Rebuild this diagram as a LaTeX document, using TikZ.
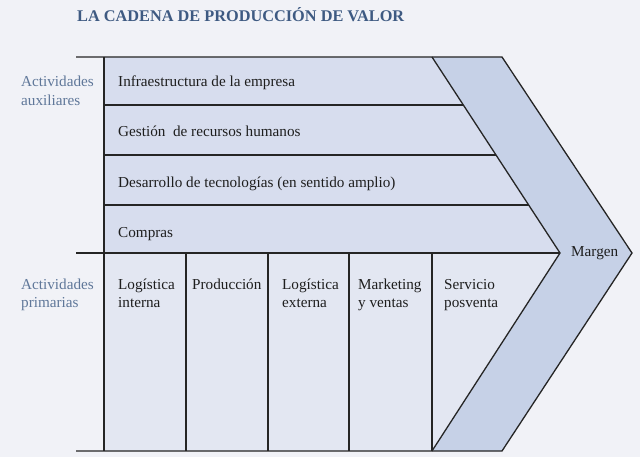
\documentclass[tikz,border=0pt]{standalone}
\usepackage{fontspec}
\setmainfont{Liberation Serif}
\definecolor{bg}{HTML}{F1F2F7}
\definecolor{supfill}{HTML}{D7DDEE}
\definecolor{primfill}{HTML}{E3E7F2}
\definecolor{marfill}{HTML}{C6D1E7}
\definecolor{linec}{HTML}{252525}
\definecolor{titlec}{HTML}{3E5A82}
\definecolor{labc}{HTML}{5F7799}
\definecolor{txtc}{HTML}{1E1E1E}
\newcommand{\twolines}[2]{\vtop{\hbox{#1}\hbox{#2}}}
\begin{document}
\begin{tikzpicture}[x=1pt,y=-1pt,
  frame/.style={draw=linec,line width=1.3pt},
  body/.style={anchor=base west,inner sep=0pt,font=\fontsize{15.2}{18.5}\selectfont,text=txtc},
  side/.style={anchor=base west,inner sep=0pt,font=\fontsize{15.2}{18.8}\selectfont,text=labc}]
\fill[bg] (0,0) rectangle (640,457);
\useasboundingbox (0,0) rectangle (640,457);
% coordinates
\coordinate (tl) at (104,57);
\coordinate (ti) at (432,57);
\coordinate (to) at (502,57);
\coordinate (tipi) at (560,253);
\coordinate (tipo) at (632,253);
\coordinate (bi) at (432,451);
\coordinate (bo) at (502,451);
\coordinate (bl) at (104,451);
\coordinate (ml) at (104,253);
% fills
\fill[supfill] (tl) -- (ti) -- (tipi) -- (ml) -- cycle;
\fill[primfill] (ml) -- (tipi) -- (bi) -- (bl) -- cycle;
\fill[marfill] (ti) -- (to) -- (tipo) -- (bo) -- (bi) -- (tipi) -- cycle;
% lines
\coordinate (tx) at (76,57);
\coordinate (mx) at (76,253);
\coordinate (bx) at (76,451);
\draw[frame] (tx) -- (to) -- (tipo) -- (bo) -- (bx);
\draw[frame] (mx) -- (tipi);
\draw[frame] (ti) -- (tipi) -- (bi);
\draw[frame] (tl) -- (bl);
\draw[frame] (104,105) -- (463.3,105);
\draw[frame] (104,155) -- (496,155);
\draw[frame] (104,205) -- (528.7,205);
\foreach \xx in {186,268,349,432} \draw[frame] (\xx,253) -- (\xx,451);
% title
\node[anchor=base west,inner sep=0pt,font=\fontsize{16.3}{18}\selectfont\bfseries,text=titlec] (title) at (77,22) {LA CADENA DE PRODUCCIÓN DE VALOR};
% side labels
\node[side] (aux) at (21,87) {\twolines{Actividades}{auxiliares}};
\node[side] (prim) at (21,289) {\twolines{Actividades}{primarias}};
% rows
\node[body] (r1) at (118,87) {Infraestructura de la empresa};
\node[body] (r2) at (118,137) {Gestión\ \ de recursos humanos};
\node[body] (r3) at (118,188) {Desarrollo de tecnologías (en sentido amplio)};
\node[body] (r4) at (118,237) {Compras};
% columns
\node[body] (c1) at (118,289) {\twolines{Logística}{interna}};
\node[body] (c2) at (192,289) {Producción};
\node[body] (c3) at (282,289) {\twolines{Logística}{externa}};
\node[body] (c4) at (358,289) {\twolines{Marketing}{y ventas}};
\node[body] (c5) at (444,289) {\twolines{Servicio}{posventa}};
\node[body] (mar) at (571,257) {Margen};
\end{tikzpicture}
\end{document}
